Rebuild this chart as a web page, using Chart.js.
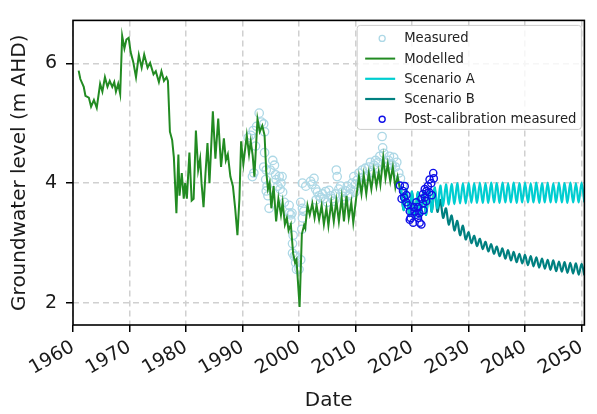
<!DOCTYPE html>
<html>
<head>
<meta charset="utf-8">
<script src="https://cdn.jsdelivr.net/npm/chart.js@4.4.1/dist/chart.umd.min.js"></script>
<style>
  html, body { margin: 0; padding: 0; background: #fff; }
  #wrap { width: 597px; height: 414px; }
</style>
</head>
<body>
<div id="wrap"><canvas id="chart" width="597" height="414"></canvas></div>
<script>
// Valores (nivel em m AHD)
const modelledYears = [
  1961.0, 1961.3, 1961.9, 1962.2, 1962.8, 1963.2, 1963.7, 1964.2, 1964.8, 1965.2,
  1965.65, 1966.1, 1966.5, 1966.95, 1967.3, 1967.6, 1968.0, 1968.35, 1968.7, 1969.1,
  1969.45, 1969.85, 1970.2, 1970.65, 1971.15, 1971.65, 1972.15, 1972.6, 1973.2, 1973.65,
  1974.25, 1974.65, 1975.2, 1975.65, 1976.1, 1976.55, 1976.8, 1977.15, 1977.55, 1977.85,
  1978.3, 1978.65, 1978.85, 1979.25, 1979.6, 1979.85, 1980.15, 1980.6, 1981.0, 1981.35,
  1981.75, 1982.15, 1982.5, 1982.75, 1983.1, 1983.45, 1983.8, 1984.15, 1984.75, 1985.2,
  1985.7, 1986.2, 1986.7, 1987.05, 1987.4, 1987.85, 1988.3, 1988.7, 1989.1, 1989.45,
  1989.75, 1990.15, 1990.75, 1991.15, 1991.45, 1991.8, 1992.1, 1992.65, 1993.05, 1993.5,
  1993.9, 1994.2, 1994.5, 1994.8, 1995.1, 1995.5, 1995.95, 1996.35, 1996.8, 1997.1,
  1997.5, 1997.85, 1998.15, 1998.55, 1998.95, 1999.3, 1999.55, 2000.1, 2000.5, 2000.9,
  2001.1, 2001.5, 2001.9, 2002.35, 2002.75, 2003.1, 2003.55, 2004.0, 2004.4, 2004.85,
  2005.2, 2005.7, 2006.15, 2006.6, 2007.05, 2007.55, 2007.95, 2008.4, 2008.8, 2009.25,
  2009.6, 2010.1, 2010.6, 2011.05, 2011.45, 2011.9, 2012.35, 2012.8, 2013.25, 2013.7,
  2014.1, 2014.4, 2014.9, 2015.3, 2015.7, 2016.15, 2016.6, 2017.05, 2017.45, 2017.95,
  2018.2
];
const modelledLevels = [
  5.88, 5.74, 5.61, 5.46, 5.43, 5.28, 5.39, 5.26, 5.66, 5.53,
  5.77, 5.61, 5.71, 5.61, 5.69, 5.53, 5.66, 5.49, 6.46, 6.25,
  6.40, 6.43, 6.19, 6.03, 5.77, 6.14, 5.93, 6.15, 5.93, 6.01,
  5.82, 5.87, 5.69, 5.87, 5.71, 5.77, 5.71, 4.86, 4.72, 4.43,
  3.50, 4.48, 3.79, 4.17, 3.74, 4.00, 3.74, 4.51, 3.71, 3.74,
  4.88, 4.22, 4.41, 4.00, 3.60, 4.17, 4.67, 4.00, 5.20, 4.41,
  5.08, 4.27, 4.75, 4.38, 4.48, 4.11, 3.95, 3.58, 3.13, 3.74,
  4.70, 4.32, 4.80, 4.48, 4.70, 4.46, 4.11, 5.07, 4.86, 4.96,
  4.80, 4.19, 3.90, 4.00, 3.58, 3.95, 3.36, 3.74, 3.47, 3.68,
  3.31, 3.42, 3.21, 3.31, 2.83, 2.67, 2.72, 1.93, 3.15, 3.30,
  3.25, 3.63, 3.47, 3.66, 3.42, 3.63, 3.39, 3.63, 3.31, 3.58,
  3.29, 3.68, 3.36, 3.71, 3.36, 3.76, 3.36, 3.79, 3.42, 3.68,
  3.34, 3.74, 4.11, 3.82, 4.14, 3.82, 4.17, 3.90, 4.22, 3.95,
  4.19, 3.98, 4.43, 4.08, 4.32, 4.03, 4.27, 3.93, 4.11, 3.87,
  3.95
];

const measuredYears = [
  1991.0, 1991.45, 1991.75, 1991.9, 1992.0, 1992.3, 1992.5, 1992.95, 1993.35, 1993.75,
  1993.75, 1993.9, 1993.9, 1994.1, 1994.2, 1994.2, 1994.35, 1994.5, 1994.7, 1994.9,
  1995.35, 1995.65, 1995.85, 1995.95, 1996.25, 1996.5, 1996.65, 1996.8, 1997.0, 1997.1,
  1997.4, 1998.25, 1998.25, 1998.55, 1998.55, 1998.75, 1998.85, 1998.95, 1998.85, 1999.15,
  1999.4, 1999.45, 1999.55, 2000.0, 2000.3, 2000.3, 2000.5, 2000.6, 2000.6, 2000.6,
  2000.85, 2001.2, 2002.05, 2002.3, 2002.65, 2002.95, 2003.0, 2003.25, 2003.55, 2003.85,
  2004.15, 2004.4, 2004.7, 2005.0, 2005.3, 2005.6, 2005.9, 2006.2, 2006.45, 2006.6,
  2006.75, 2007.05, 2007.35, 2007.65, 2007.8, 2008.0, 2008.25, 2008.55, 2008.8, 2009.0,
  2009.1, 2009.4, 2009.7, 2009.9, 2010.0, 2010.3, 2010.6, 2010.9, 2011.2, 2011.4,
  2011.75, 2012.0, 2012.35, 2012.65, 2012.9, 2013.25, 2013.55, 2013.8, 2014.0, 2014.3,
  2014.7, 2014.8, 2015.0, 2015.3, 2015.6, 2015.85, 2016.0, 2016.35, 2016.5, 2016.75,
  2017.05, 2017.3, 2017.65, 2017.95, 2018.3
];
const measuredLevels = [
  4.76, 4.80, 4.11, 4.88, 4.17, 4.62, 4.95, 5.17, 5.02, 4.99,
  4.27, 4.86, 4.51, 4.06, 4.22, 3.87, 3.95, 3.79, 3.58, 4.22,
  4.38, 4.30, 4.14, 4.06, 3.95, 4.11, 3.90, 4.00, 4.11, 3.85,
  3.68, 3.50, 3.63, 3.39, 3.47, 3.50, 2.99, 3.13, 2.83, 2.78,
  2.67, 2.78, 2.56, 2.56, 2.72, 3.68, 3.23, 3.42, 3.58, 4.00,
  3.53, 3.95, 4.03, 3.98, 4.08, 3.90, 3.72, 3.85, 3.79, 3.76,
  3.82, 3.74, 3.86, 3.68, 3.88, 3.79, 3.74, 3.70, 3.82, 4.22,
  4.11, 3.90, 3.95, 3.85, 3.78, 3.72, 3.87, 3.95, 3.79, 3.82,
  3.90, 4.00, 4.11, 3.85, 3.98, 4.05, 4.17, 4.00, 4.22, 4.10,
  4.25, 4.12, 4.27, 4.35, 4.18, 4.30, 4.38, 4.25, 4.35, 4.45,
  4.78, 4.59, 4.50, 4.35, 4.28, 4.38, 4.45, 4.32, 4.30, 4.43,
  4.27, 4.35, 4.17, 4.08, 3.95
];

const scenarioYears = [
  2018, 2018.5, 2019, 2019.5, 2020, 2020.5, 2021, 2021.5, 2022, 2022.5,
  2023, 2023.5, 2024, 2024.5, 2025, 2025.5, 2026, 2026.5, 2027, 2027.5,
  2028, 2028.5, 2029, 2029.5, 2030, 2030.5, 2031, 2031.5, 2032, 2032.5,
  2033, 2033.5, 2034, 2034.5, 2035, 2035.5, 2036, 2036.5, 2037, 2037.5,
  2038, 2038.5, 2039, 2039.5, 2040, 2040.5, 2041, 2041.5, 2042, 2042.5,
  2043, 2043.5, 2044, 2044.5, 2045, 2045.5, 2046, 2046.5, 2047, 2047.5,
  2048, 2048.5, 2049, 2049.5, 2050, 2050.5
];
const scenarioA = [
  3.95, 3.55, 3.90, 3.45, 3.86, 3.42, 3.85, 3.43, 3.87, 3.47,
  3.90, 3.52, 3.93, 3.58, 3.96, 3.62, 3.98, 3.64, 3.99, 3.65,
  4.00, 3.66, 4.00, 3.66, 4.00, 3.67, 4.00, 3.67, 4.01, 3.67,
  4.00, 3.67, 4.01, 3.68, 4.00, 3.67, 4.01, 3.68, 4.00, 3.68,
  4.01, 3.67, 4.00, 3.68, 4.01, 3.68, 4.00, 3.68, 4.01, 3.67,
  4.00, 3.68, 4.01, 3.68, 4.00, 3.68, 4.01, 3.68, 4.00, 3.67,
  4.01, 3.68, 4.00, 3.68, 4.01, 3.68
];
const scenarioB = [
  3.95, 3.55, 3.90, 3.45, 3.86, 3.42, 3.85, 3.43, 3.87, 3.47,
  3.90, 3.52, 3.92, 3.52, 3.72, 3.42, 3.58, 3.31, 3.46, 3.21,
  3.37, 3.13, 3.29, 3.06, 3.18, 3.00, 3.12, 2.95, 3.07, 2.90,
  3.02, 2.86, 2.98, 2.82, 2.94, 2.78, 2.91, 2.74, 2.88, 2.71,
  2.85, 2.68, 2.82, 2.66, 2.80, 2.63, 2.78, 2.61, 2.76, 2.59,
  2.74, 2.57, 2.72, 2.55, 2.71, 2.53, 2.69, 2.52, 2.68, 2.50,
  2.67, 2.49, 2.66, 2.47, 2.65, 2.46
];

const postCalYears = [
  2017.85, 2018.15, 2018.4, 2018.6, 2018.7, 2019.0, 2019.0, 2019.3, 2019.6, 2019.6,
  2019.75, 2020.2, 2020.3, 2020.45, 2020.6, 2020.75, 2021.05, 2021.05, 2021.3, 2021.35,
  2021.65, 2021.65, 2021.95, 2021.95, 2022.0, 2022.25, 2022.25, 2022.5, 2022.55, 2022.8,
  2023.0, 2023.1, 2023.4, 2023.5, 2023.75, 2023.85
];
const postCalLevels = [
  3.96, 3.74, 3.87, 3.76, 3.95, 3.68, 3.80, 3.63, 3.53, 3.39,
  3.42, 3.34, 3.60, 3.53, 3.47, 3.68, 3.60, 3.42, 3.50, 3.34,
  3.31, 3.74, 3.82, 3.66, 3.55, 3.90, 3.76, 3.70, 3.87, 3.95,
  3.85, 4.06, 4.00, 3.80, 4.17, 4.08
];

const xTickValues = [1960, 1970, 1980, 1990, 2000, 2010, 2020, 2030, 2040, 2050];
const yTickValues = [2, 4, 6];

// junta anos e niveis em pontos {x, y}
function toPoints(xs, ys) {
  return xs.map((x, i) => ({ x: x, y: ys[i] }));
}

// moldura preta em volta da area do grafico
const framePlugin = {
  id: "frame",
  afterDatasetsDraw(chart) {
    const { ctx, chartArea: a } = chart;
    ctx.save();
    ctx.strokeStyle = "#000";
    ctx.lineWidth = 1.6;
    ctx.strokeRect(a.left, a.top, a.right - a.left, a.bottom - a.top);
    ctx.restore();
  }
};

// legenda dentro do grafico, canto superior direito
const legendPlugin = {
  id: "legendBox",
  afterDraw(chart) {
    const { ctx, chartArea: a } = chart;
    const items = chart.data.datasets;
    const rowH = 20.2, pad = 8, handle = 30;
    ctx.save();
    ctx.font = '13.2px "DejaVu Sans"';
    let textW = 0;
    items.forEach(d => { textW = Math.max(textW, ctx.measureText(d.label).width); });
    const w = pad + handle + 9 + textW + 5;
    const h = items.length * rowH + 3;
    const x = a.right - 3 - w;
    const y = a.top + 5;

    ctx.beginPath();
    ctx.roundRect(x, y, w, h, 3);
    ctx.fillStyle = "rgba(255,255,255,0.8)";
    ctx.fill();
    ctx.strokeStyle = "#cccccc";
    ctx.lineWidth = 1;
    ctx.stroke();

    items.forEach((d, i) => {
      const cy = y + 13 + i * rowH;
      if (d.showLine) {
        ctx.strokeStyle = d.borderColor;
        ctx.lineWidth = d.borderWidth;
        ctx.beginPath();
        ctx.moveTo(x + pad, cy);
        ctx.lineTo(x + pad + handle, cy);
        ctx.stroke();
      } else {
        ctx.strokeStyle = d.pointBorderColor;
        ctx.lineWidth = d.pointBorderWidth;
        ctx.beginPath();
        ctx.arc(x + pad + handle / 2 + 2, cy, 3, 0, Math.PI * 2);
        ctx.stroke();
      }
      ctx.fillStyle = "#222";
      ctx.textBaseline = "middle";
      ctx.textAlign = "left";
      ctx.fillText(d.label, x + pad + handle + 9, cy + 0.5);
    });
    ctx.restore();
  }
};

Chart.defaults.font.family = '"DejaVu Sans", sans-serif';
Chart.defaults.color = "#1a1a1a";

const ctx = document.getElementById("chart").getContext("2d");
new Chart(ctx, {
  type: "scatter",
  data: {
    datasets: [
      {
        label: "Measured",
        data: toPoints(measuredYears, measuredLevels),
        showLine: false,
        pointRadius: 4.2,
        pointBorderWidth: 1.3,
        pointBorderColor: "#add8e6",
        pointBackgroundColor: "rgba(0,0,0,0)",
        borderColor: "#add8e6",
        order: 5
      },
      {
        label: "Modelled",
        data: toPoints(modelledYears, modelledLevels),
        showLine: true,
        borderColor: "#228b22",
        borderWidth: 2,
        pointRadius: 0,
        tension: 0,
        order: 4
      },
      {
        label: "Scenario A",
        data: toPoints(scenarioYears, scenarioA),
        showLine: true,
        borderColor: "#00ced1",
        borderWidth: 2.2,
        pointRadius: 0,
        tension: 0.3,
        order: 2
      },
      {
        label: "Scenario B",
        data: toPoints(scenarioYears, scenarioB),
        showLine: true,
        borderColor: "#008080",
        borderWidth: 2.2,
        pointRadius: 0,
        tension: 0.3,
        order: 3
      },
      {
        label: "Post-calibration measured",
        data: toPoints(postCalYears, postCalLevels),
        showLine: false,
        pointRadius: 3.6,
        pointBorderWidth: 1.4,
        pointBorderColor: "#1010e8",
        pointBackgroundColor: "rgba(0,0,0,0)",
        borderColor: "#1010e8",
        order: 1
      }
    ]
  },
  options: {
    responsive: false,
    animation: false,
    layout: { padding: { top: 7, right: 7, left: 0, bottom: 0 } },
    plugins: {
      legend: { display: false },
      tooltip: { enabled: false }
    },
    scales: {
      x: {
        type: "linear",
        min: 1960,
        max: 2050.5,
        afterBuildTicks: s => { s.ticks = xTickValues.map(v => ({ value: v })); },
        afterFit: s => { s.height = 89; },
        ticks: {
          autoSkip: false,
          minRotation: 30,
          maxRotation: 30,
          padding: 4,
          labelOffset: 0,
          font: { size: 19 },
          callback: v => String(v)
        },
        grid: {
          color: "#d0d0d0",
          lineWidth: 1.5,
          tickLength: 7,
          tickColor: "#000",
          tickWidth: 1.5
        },
        border: { display: false, dash: [6, 4] },
        title: {
          display: true,
          text: "Date",
          font: { size: 20 },
          padding: { top: 0, bottom: 1 }
        }
      },
      y: {
        type: "linear",
        min: 1.63,
        max: 6.72,
        afterBuildTicks: s => { s.ticks = yTickValues.map(v => ({ value: v })); },
        afterFit: s => { s.width = 73; },
        ticks: {
          padding: 9,
          font: { size: 19 },
          callback: v => String(v)
        },
        grid: {
          color: "#d0d0d0",
          lineWidth: 1.5,
          tickLength: 7,
          tickColor: "#000",
          tickWidth: 1.5
        },
        border: { display: false, dash: [6, 4] },
        title: {
          display: true,
          text: "Groundwater level (m AHD)",
          font: { size: 20 },
          padding: { top: 8, bottom: 0 }
        }
      }
    }
  },
  plugins: [framePlugin, legendPlugin]
});
</script>
</body>
</html>
